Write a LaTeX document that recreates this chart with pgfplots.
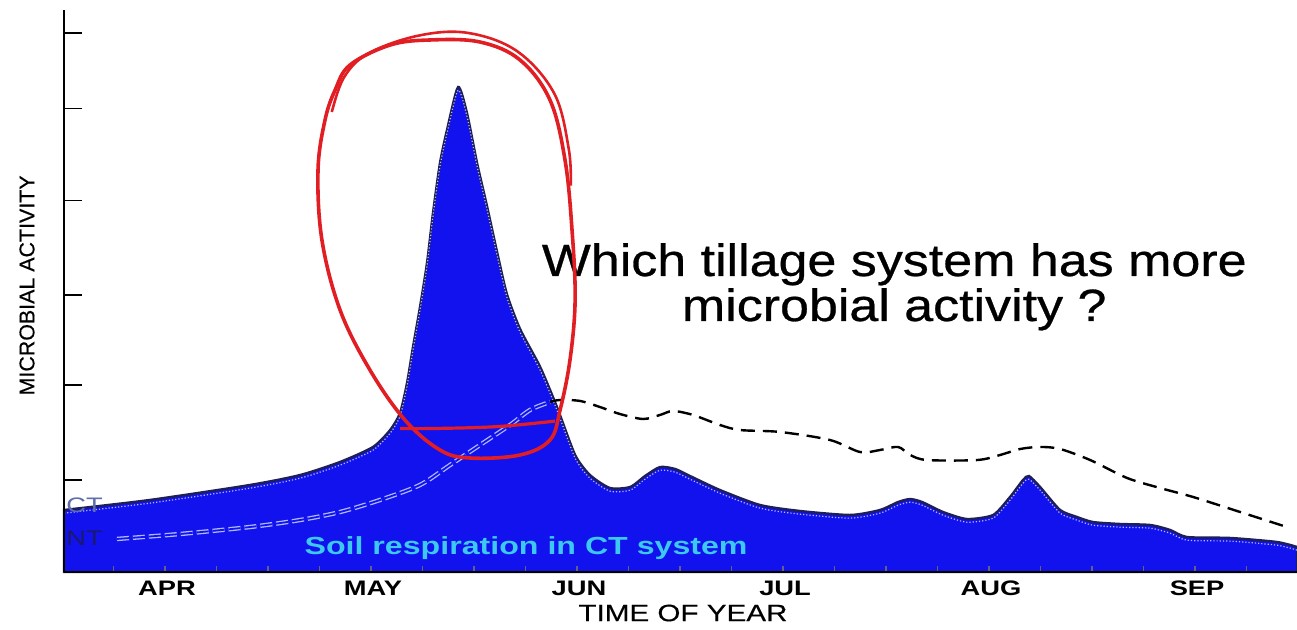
\documentclass[border=0pt]{standalone}
\usepackage{pgfplots}
\pgfplotsset{compat=1.18}
\usepackage{fontspec}
\setmainfont{Liberation Sans}
\newfontfamily\widefont[FakeStretch=1.3]{Liberation Sans}
\newfontfamily\qfont[FakeStretch=1.15, FakeBold=0.6]{Liberation Sans}
\newfontfamily\tfont[FakeStretch=1.25, FakeBold=0.4]{Liberation Sans}
\newfontfamily\yfont[FakeBold=0.4]{Liberation Sans}
\definecolor{ctblue}{RGB}{18,18,238}
\definecolor{ctdark}{RGB}{30,30,90}
\definecolor{ntlight}{RGB}{175,185,255}
\definecolor{soilcyan}{RGB}{60,200,240}
\definecolor{ctlab}{RGB}{95,110,170}
\definecolor{ntlab}{RGB}{25,25,110}
\definecolor{penred}{RGB}{225,30,35}
\pgfplotstableread{
x y
0 0.674
0.417 0.783
0.903 0.946
1.146 1.054
1.340 1.196
1.500 1.359
1.583 1.543
1.631 1.728
1.665 2.054
1.694 2.446
1.728 2.880
1.762 3.359
1.791 3.902
1.825 4.446
1.859 4.804
1.913 5.272
1.956 4.989
2.005 4.446
2.053 3.980
2.102 3.480
2.150 3.020
2.214 2.640
2.311 2.230
2.393 1.793
2.481 1.272
2.553 1.054
2.650 0.913
2.748 0.924
2.820 1.043
2.893 1.141
2.966 1.120
3.039 1.043
3.184 0.891
3.379 0.728
3.573 0.663
3.816 0.620
3.961 0.674
4.049 0.761
4.107 0.793
4.165 0.761
4.267 0.652
4.383 0.576
4.510 0.620
4.592 0.815
4.655 1.000
4.684 1.043
4.738 0.924
4.835 0.674
4.917 0.598
4.995 0.543
5.126 0.522
5.272 0.511
5.369 0.457
5.451 0.380
5.660 0.370
5.888 0.326
5.985 0.272
}\ctdata
\pgfplotstableread{
x y
0.257 0.359
0.563 0.413
0.903 0.489
1.146 0.565
1.340 0.652
1.534 0.783
1.728 0.946
1.874 1.163
2.019 1.380
2.165 1.598
2.262 1.761
2.359 1.848
}\ntinside
\pgfplotstableread{
x y
2.359 1.848
2.408 1.870
2.505 1.859
2.602 1.793
2.699 1.717
2.811 1.663
2.893 1.707
2.956 1.750
3.053 1.707
3.184 1.598
3.282 1.543
3.476 1.522
3.718 1.435
3.864 1.304
3.961 1.326
4.049 1.359
4.107 1.272
4.189 1.217
4.432 1.217
4.544 1.272
4.641 1.337
4.738 1.359
4.835 1.337
4.981 1.217
5.160 1.022
5.320 0.913
5.481 0.815
5.709 0.652
5.951 0.478
}\ntabove
\begin{document}
\begin{tikzpicture}
\begin{axis}[
  at={(0,0)}, anchor=south west,
  scale only axis, width=616.5pt, height=281pt,
  xmin=0, xmax=5.985, ymin=0, ymax=6.109,
  axis x line*=bottom, axis y line*=left,
  axis line style={line width=1pt, black},
  axis on top,
  xtick={0.5,1.5,2.5,3.5,4.5,5.5},
  xticklabels={APR,MAY,JUN,JUL,AUG,SEP},
  major x tick style={draw=none},
  minor xtick={0.24,0.49,...,5.9},
  minor x tick style={draw=ctdark!70, line width=0.6pt},
  minor tick length=3pt,
  ytick={1,2.03,3.01,4.04,5.04,5.86},
  yticklabels={},
  major tick length=9pt,
  ytick style={line width=0.8pt, black},
  tick align=inside,
  xticklabel style={font=\widefont\bfseries\fontsize{10.5}{12}\selectfont, yshift=-1pt},
  xlabel={\tfont\fontsize{11.85}{13}\selectfont TIME OF YEAR},
  xlabel style={at={(axis description cs:0.502,-0.073)}, anchor=center},
  ylabel={\yfont\fontsize{10.7}{12}\selectfont MICROBIAL ACTIVITY},
  ylabel style={at={(axis description cs:-0.030,0.51)}, anchor=center},
  clip=false,
]
% CT curve (filled)
\addplot[fill=ctblue, draw=ctdark, line width=1.2pt, smooth, tension=0.4] table {\ctdata} \closedcycle;
% inner light dotted edge
\addplot[ntlight, densely dotted, line width=0.6pt, smooth, tension=0.4, transform canvas={yshift=-1.6pt}] table {\ctdata};
% NT curve, part inside the CT area (hollow dashes)
\addplot[ntlight, line width=2.2pt, dash pattern=on 6pt off 2pt, smooth] table {\ntinside};
\addplot[ctblue, line width=0.9pt, dash pattern=on 6pt off 2pt, smooth] table {\ntinside};
% NT curve, part above the CT area
\addplot[black, line width=1.2pt, dash pattern=on 7pt off 4pt, smooth] table {\ntabove};
% labels
\node[text=ctlab, font=\widefont\fontsize{10.5}{11}\selectfont] at (axis cs:0.10,0.72) {CT};
\node[text=ntlab, font=\widefont\fontsize{10.5}{11}\selectfont] at (axis cs:0.10,0.37) {NT};
\node[text=soilcyan, font=\widefont\bfseries\fontsize{12.36}{14}\selectfont] at (axis cs:2.243,0.261) {Soil respiration in CT system};
\node[align=center, font=\qfont\fontsize{22.6}{22.5}\selectfont] at (axis cs:4.03,3.10) {Which tillage system has more\\microbial activity ?};
% red hand-drawn loop
\draw[penred, line width=1.8pt] plot[smooth cycle, tension=0.6] coordinates {
(1.777,5.783)(2.019,5.761)(2.214,5.565)(2.359,5.130)(2.432,4.478)(2.466,3.717)(2.481,2.957)(2.456,2.304)(2.408,1.761)(2.359,1.435)(2.214,1.272)(1.971,1.239)(1.825,1.326)(1.655,1.652)(1.485,2.196)(1.340,2.848)(1.252,3.609)(1.233,4.370)(1.267,4.913)(1.316,5.239)(1.388,5.511)(1.583,5.728)
};
\draw[penred, line width=1.3pt] plot[smooth, tension=0.6] coordinates {
(1.30,5.00)(1.36,5.38)(1.48,5.64)(1.72,5.83)(1.96,5.86)(2.20,5.66)(2.38,5.20)(2.45,4.60)(2.46,4.20)
};
\draw[penred, line width=1.6pt] plot[smooth, tension=0.6] coordinates {
(1.631,1.560)(1.80,1.56)(2.10,1.58)(2.383,1.640)
};
\end{axis}
\pgfresetboundingbox
\path[use as bounding box] (-32pt,-29pt) rectangle (616.5pt,286pt);
\end{tikzpicture}
\end{document}
